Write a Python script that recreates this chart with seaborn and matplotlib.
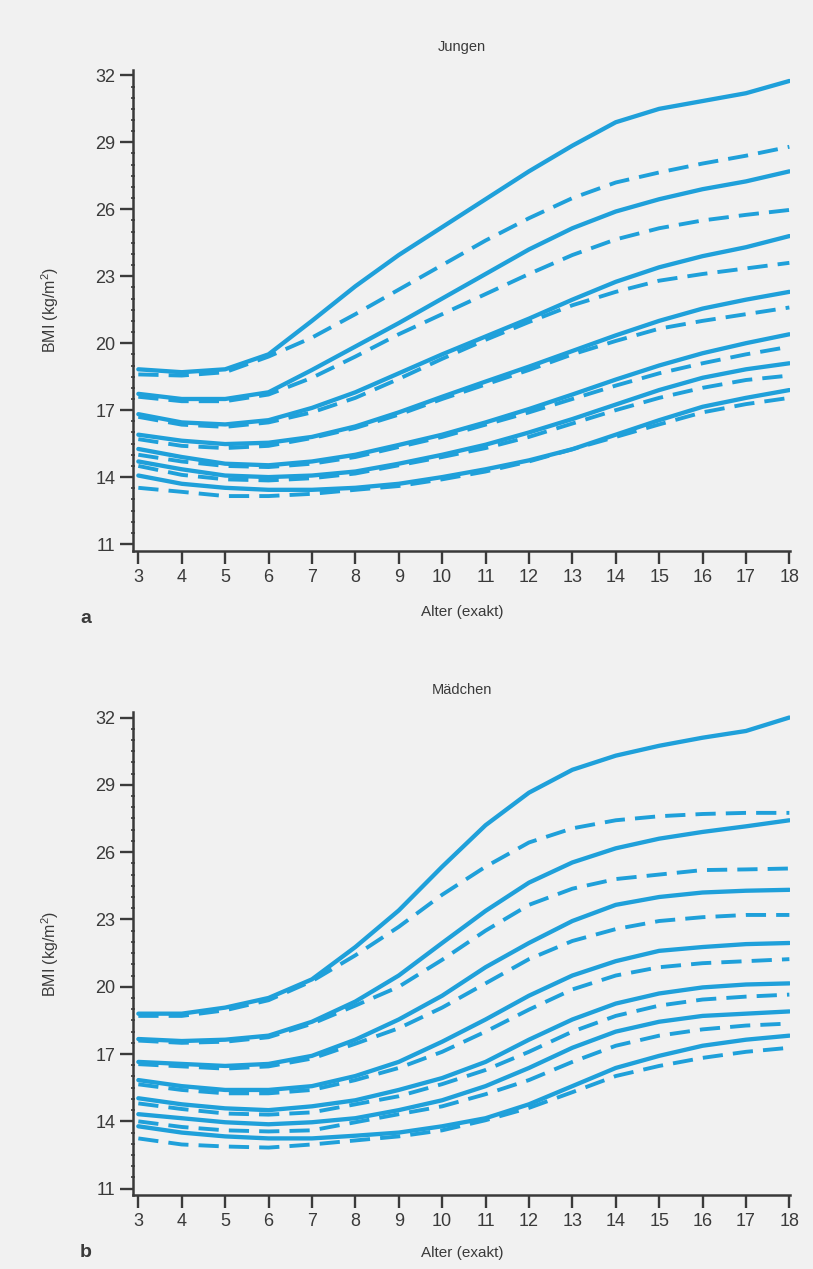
import matplotlib
matplotlib.use("Agg")
import matplotlib.pyplot as plt
import seaborn as sns
import pandas as pd
from matplotlib.ticker import MultipleLocator

ages = list(range(3, 19))
yticks = [11, 14, 17, 20, 23, 26, 29, 32]

boys_solid = [
    [18.83, 18.7, 18.83, 19.5, 21.0, 22.55, 23.95, 25.2, 26.45, 27.7, 28.85, 29.9, 30.5, 30.85, 31.2, 31.75],
    [17.73, 17.5, 17.5, 17.8, 18.8, 19.85, 20.9, 22.0, 23.1, 24.2, 25.15, 25.9, 26.45, 26.9, 27.25, 27.7],
    [16.82, 16.45, 16.36, 16.55, 17.1, 17.8, 18.65, 19.5, 20.3, 21.1, 21.95, 22.75, 23.4, 23.9, 24.3, 24.8],
    [15.9, 15.63, 15.48, 15.54, 15.8, 16.27, 16.9, 17.6, 18.28, 18.95, 19.65, 20.35, 21.0, 21.55, 21.95, 22.3],
    [15.26, 14.9, 14.6, 14.53, 14.7, 15.0, 15.44, 15.9, 16.45, 17.05, 17.7, 18.37, 19.0, 19.55, 20.0, 20.4],
    [14.7, 14.35, 14.07, 14.0, 14.07, 14.25, 14.6, 15.0, 15.45, 16.0, 16.6, 17.25, 17.9, 18.45, 18.83, 19.1],
    [14.07, 13.7, 13.52, 13.43, 13.43, 13.52, 13.7, 14.0, 14.35, 14.75, 15.25, 15.9, 16.55, 17.15, 17.55, 17.9],
]
boys_dashed = [
    [18.6, 18.55, 18.7, 19.4, 20.25, 21.3, 22.4, 23.5, 24.6, 25.6, 26.5, 27.2, 27.65, 28.05, 28.4, 28.8],
    [17.6, 17.4, 17.4, 17.7, 18.45, 19.4, 20.4, 21.3, 22.2, 23.1, 23.95, 24.65, 25.15, 25.5, 25.75, 25.97],
    [16.7, 16.35, 16.25, 16.45, 16.9, 17.55, 18.4, 19.3, 20.15, 20.95, 21.7, 22.3, 22.8, 23.1, 23.35, 23.6],
    [15.7, 15.4, 15.3, 15.4, 15.75, 16.2, 16.8, 17.5, 18.15, 18.8, 19.5, 20.1, 20.65, 21.0, 21.3, 21.6],
    [15.0, 14.7, 14.5, 14.45, 14.6, 14.9, 15.35, 15.8, 16.35, 16.9, 17.5, 18.1, 18.65, 19.1, 19.5, 19.84],
    [14.5, 14.1, 13.9, 13.85, 13.95, 14.16, 14.53, 14.9, 15.3, 15.8, 16.4, 17.0, 17.55, 18.0, 18.35, 18.55],
    [13.52, 13.34, 13.15, 13.15, 13.25, 13.43, 13.6, 13.9, 14.25, 14.7, 15.25, 15.8, 16.36, 16.9, 17.27, 17.55],
]
girls_solid = [
    [18.8, 18.8, 19.07, 19.5, 20.33, 21.77, 23.4, 25.35, 27.2, 28.65, 29.67, 30.3, 30.74, 31.1, 31.4, 32.0],
    [17.67, 17.58, 17.64, 17.82, 18.44, 19.34, 20.5, 21.95, 23.38, 24.64, 25.54, 26.17, 26.6, 26.9, 27.15, 27.42],
    [16.65, 16.56, 16.47, 16.56, 16.92, 17.64, 18.54, 19.6, 20.87, 21.95, 22.93, 23.65, 24.0, 24.2, 24.28, 24.32],
    [15.84, 15.57, 15.4, 15.4, 15.57, 16.02, 16.65, 17.55, 18.54, 19.6, 20.5, 21.14, 21.6, 21.77, 21.9, 21.95],
    [15.03, 14.76, 14.58, 14.5, 14.67, 14.94, 15.4, 15.93, 16.65, 17.64, 18.54, 19.25, 19.7, 19.97, 20.1, 20.15],
    [14.32, 14.14, 13.96, 13.87, 13.96, 14.14, 14.5, 14.94, 15.57, 16.38, 17.28, 18.0, 18.44, 18.7, 18.8, 18.9],
    [13.78, 13.5, 13.33, 13.24, 13.24, 13.36, 13.5, 13.78, 14.14, 14.76, 15.57, 16.38, 16.92, 17.37, 17.64, 17.82],
]
girls_dashed = [
    [18.7, 18.7, 18.95, 19.4, 20.25, 21.4, 22.67, 24.1, 25.35, 26.43, 27.06, 27.42, 27.6, 27.7, 27.75, 27.75],
    [17.6, 17.5, 17.55, 17.75, 18.35, 19.16, 20.0, 21.2, 22.5, 23.65, 24.37, 24.8, 25.0, 25.2, 25.23, 25.27],
    [16.55, 16.45, 16.35, 16.45, 16.8, 17.46, 18.15, 19.07, 20.15, 21.23, 22.04, 22.57, 22.93, 23.1, 23.2, 23.2],
    [15.65, 15.4, 15.25, 15.25, 15.4, 15.84, 16.38, 17.1, 18.0, 18.98, 19.88, 20.5, 20.87, 21.05, 21.14, 21.23],
    [14.8, 14.55, 14.35, 14.3, 14.4, 14.76, 15.12, 15.66, 16.29, 17.1, 18.0, 18.7, 19.16, 19.43, 19.56, 19.65],
    [14.0, 13.75, 13.6, 13.55, 13.6, 13.96, 14.32, 14.67, 15.21, 15.84, 16.65, 17.37, 17.82, 18.1, 18.27, 18.36],
    [13.24, 12.97, 12.88, 12.83, 12.97, 13.15, 13.33, 13.6, 14.05, 14.6, 15.3, 16.02, 16.47, 16.83, 17.1, 17.28],
]

titles = ["Jungen", "Mädchen"]
letters = ["a", "b"]
xlabel = "Alter (exakt)"
ylabel = "BMI (kg/m$^2$)"

BG = "#f1f1f1"
LINE = "#1fa0da"
DARK = "#3a3a3a"

sns.set_theme(style="ticks")
plt.rcParams['font.family'] = ['Liberation Sans', 'DejaVu Sans']
plt.rcParams['mathtext.fontset'] = 'custom'
plt.rcParams['mathtext.rm'] = 'Liberation Sans'

fig = plt.figure(figsize=(8.13, 12.69), dpi=100, facecolor=BG)
ax_pos = [
    [0.164, 0.566, 0.808, 0.379],
    [0.164, 0.058, 0.808, 0.381],
]
panels = [(boys_solid, boys_dashed), (girls_solid, girls_dashed)]
title_y = [0.963, 0.456]
letter_y = [0.506, 0.006]
xlabel_y = [-0.112, -0.104]

for i, (solid, dashed) in enumerate(panels):
    ax = fig.add_axes(ax_pos[i])
    ax.set_facecolor(BG)
    rows = []
    for k, s in enumerate(solid):
        for a, v in zip(ages, s):
            rows.append({"age": a, "bmi": v, "curve": f"s{k}", "kind": "solid"})
    for k, s in enumerate(dashed):
        for a, v in zip(ages, s):
            rows.append({"age": a, "bmi": v, "curve": f"d{k}", "kind": "dashed"})
    df = pd.DataFrame(rows)
    for name, g in df.groupby("curve", sort=False):
        is_dashed = g["kind"].iloc[0] == "dashed"
        line_ax = sns.lineplot(data=g, x="age", y="bmi", ax=ax, color=LINE,
                               linewidth=3.1, legend=False, sort=True)
        ln = line_ax.lines[-1]
        ln.set_solid_joinstyle("round")
        if is_dashed:
            ln.set_dashes((5.2, 2.6))
            ln.set_linewidth(2.8)
            ln.set_dash_joinstyle("round")
        ln.set_solid_capstyle("round")

    ax.set_xlim(2.885, 18.02)
    ax.set_ylim(10.7, 32.25)
    ax.set_xticks(ages)
    ax.set_yticks(yticks)
    ax.yaxis.set_minor_locator(MultipleLocator(0.5))
    ax.tick_params(axis="both", which="major", labelsize=13, colors=DARK,
                   length=9.5, width=1.7, direction="out", pad=3.5)
    ax.tick_params(axis="y", which="minor", length=2.5, width=1.2,
                   direction="inout", colors=DARK)
    for sp in ["top", "right"]:
        ax.spines[sp].set_visible(False)
    for sp in ["left", "bottom"]:
        ax.spines[sp].set_color(DARK)
        ax.spines[sp].set_linewidth(1.8)
    ax.set_xlabel(xlabel, fontsize=11, color=DARK)
    ax.set_ylabel(ylabel, fontsize=11.5, color=DARK)
    ax.xaxis.set_label_coords(0.5, xlabel_y[i])
    ax.yaxis.set_label_coords(-0.11, 0.5)
    fig.text(0.568, title_y[i], titles[i], ha="center", va="center",
             fontsize=10.5, color=DARK)
    fig.text(0.105, letter_y[i], letters[i], ha="center", va="bottom",
             fontsize=14, fontweight="bold", color=DARK)

fig.savefig("out.png", dpi=100, facecolor=BG)
